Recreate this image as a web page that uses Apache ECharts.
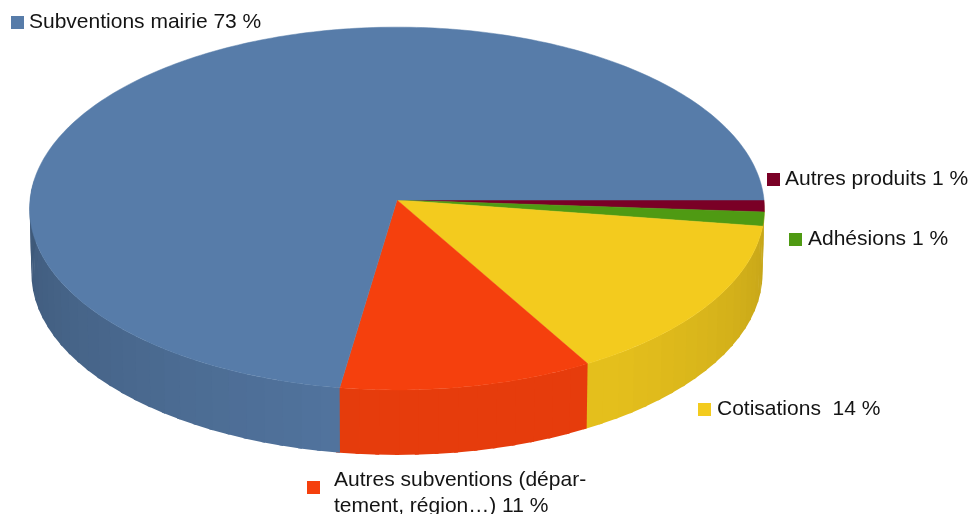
<!DOCTYPE html>
<html lang="fr">
<head>
    <meta charset="UTF-8">
    <title>Recettes</title>
    <style>
        html, body { margin: 0; padding: 0; background: #fff; }
    </style>
</head>
<body>
<div id="main" style="width: 970px;height:514px"></div>
<script src="https://cdn.jsdelivr.net/npm/echarts@6/dist/echarts.min.js"></script>
<script>
    // clockwise from the right-hand edge of the disc
    var categories = ['Autres produits', 'Adhésions', 'Cotisations', 'Autres subventions', 'Subventions mairie'];
    var values = [1.05, 1.25, 14.4, 10.68, 72.62];
    var colors = ['#7a0026', '#4f9a13', '#f3cb1e', '#f5400d', '#577ca9'];
    var labels = [
        'Autres produits 1 %',
        'Adhésions 1 %',
        'Cotisations  14 %',
        'Autres subventions (dépar-\ntement, région…) 11 %',
        'Subventions mairie 73 %'
    ];
    // marker x, marker y, text x, text centre y
    var labelPlaces = [
        [767, 173, 785, 179],
        [789, 233, 808, 239],
        [698, 403, 717, 409],
        [307, 481, 334, 493],
        [11, 16, 29, 22]
    ];
    var firstWall = 2; // the two thin slices on the right have no wall of their own

    var total = values.reduce(function (p, c) { return p + c; }, 0);

    // the disc seen in perspective, the near side is drawn bigger
    var cx = 397, cy = 200, rx = 367, ry = 181, persp = 0.047, wall = 65, inset = 0.995;

    function project(deg, r) {
        var a = deg * Math.PI / 180;
        var w = 1 - persp * r * Math.sin(a);
        return [cx + rx * r * Math.cos(a) / w, cy + ry * r * Math.sin(a) / w];
    }

    function below(p) {
        return [cx + (p[0] - cx) * inset, p[1] + wall];
    }

    function startOf(i) {
        var sum = 0;
        for (var k = 0; k < i; k++) sum += values[k];
        return sum / total * 360;
    }

    function wallShade(deg) {
        if (deg < 55) return 0.94 - 0.0025 * (55 - deg);
        if (deg > 95) return 0.94 - 0.0025 * (deg - 95);
        return 0.94;
    }

    function darker(hex, s) {
        var c = echarts.color.parse(hex);
        return 'rgb(' + Math.round(c[0] * s) + ',' + Math.round(c[1] * s) + ',' + Math.round(c[2] * s) + ')';
    }

    function renderWall(params, api) {
        var i = params.dataIndex;
        if (i < firstWall) return null;
        var a = i === firstWall ? 0 : startOf(i);
        var b = startOf(i) + api.value(0) / total * 360;
        b = Math.min(b, 186); // the back of the wall is hidden
        var children = [];
        var n = Math.max(1, Math.ceil((b - a) / 3));
        for (var k = 0; k < n; k++) {
            var a1 = a + (b - a) * k / n;
            var a2 = a + (b - a) * (k + 1) / n;
            // each strip runs a little under the next one so no seam shows
            var p1 = project(a1, 1), p2 = project(a2 + 0.6, 1);
            children.push({
                type: 'polygon',
                shape: { points: [p1, p2, below(p2), below(p1)] },
                style: { fill: darker(colors[i], wallShade((a1 + a2) / 2)) }
            });
        }
        return { type: 'group', children: children };
    }

    function renderTop(params, api) {
        var i = params.dataIndex;
        var a = startOf(i);
        var b = a + api.value(0) / total * 360;
        var pts = [project(0, 0)];
        var n = Math.max(2, Math.ceil(b - a));
        for (var k = 0; k <= n; k++) pts.push(project(a + (b - a) * k / n, 1));
        return {
            type: 'polygon',
            shape: { points: pts },
            style: { fill: colors[i], stroke: colors[i], lineWidth: 0.5 }
        };
    }

    var elements = [];
    labels.forEach(function (text, i) {
        var place = labelPlaces[i];
        elements.push({
            type: 'rect',
            left: place[0],
            top: place[1],
            shape: { width: 13, height: 13 },
            style: { fill: colors[i] }
        });
        elements.push({
            type: 'text',
            x: place[2],
            y: place[3],
            style: {
                text: text,
                font: '21px "Liberation Sans", Arial, sans-serif',
                fill: '#141414',
                lineHeight: 26,
                verticalAlign: 'middle',
                align: 'left'
            }
        });
    });

    var myChart = echarts.init(document.getElementById('main'));
    myChart.setOption({
        animation: false,
        backgroundColor: '#fff',
        graphic: { elements: elements },
        series: [
            {
                type: 'custom',
                coordinateSystem: 'none',
                silent: true,
                z: 1,
                renderItem: renderWall,
                data: values.map(function (v, i) { return { name: categories[i], value: [v] }; })
            },
            {
                type: 'custom',
                coordinateSystem: 'none',
                silent: true,
                z: 2,
                renderItem: renderTop,
                data: values.map(function (v, i) { return { name: categories[i], value: [v] }; })
            }
        ]
    });
</script>
</body>
</html>
